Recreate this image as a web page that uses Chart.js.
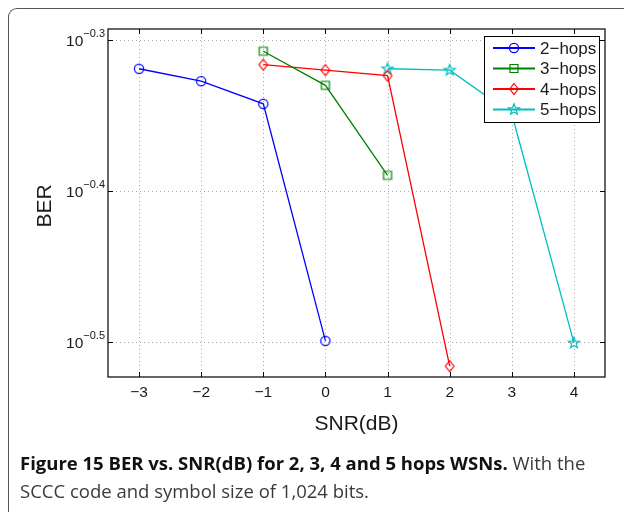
<!DOCTYPE html>
<html>
<head>
<meta charset="utf-8">
<script src="https://cdn.jsdelivr.net/npm/chart.js@4"></script>
<style>
  html, body { margin: 0; padding: 0; background: #fff; width: 624px; height: 512px; overflow: hidden; }
  #frame { position: absolute; left: 8px; top: 8px; width: 700px; height: 600px;
           border-top: 1.5px solid #555; border-left: 1.5px solid #555; border-top-left-radius: 9px; }
  #c { position: absolute; left: 0; top: 0; }
  #caption { position: absolute; left: 20px; top: 449px; width: 610px; white-space: nowrap;
             font-family: "Open Sans", sans-serif; font-size: 18.5px; line-height: 28px; color: #3a3a3a; }
  #caption b { color: #111; }
</style>
</head>
<body>
<div id="frame"></div>
<canvas id="c" width="624" height="512"></canvas>
<div id="caption"><b>Figure 15 BER vs. SNR(dB) for 2, 3, 4 and 5 hops WSNs.</b> With the<br>SCCC code and symbol size of 1,024 bits.</div>
<script>
// datos
let snr2 = [-3, -2, -1, 0];
let ber2 = [0.480, 0.471, 0.455, 0.317];
let snr3 = [-1, 0, 1];
let ber3 = [0.493, 0.468, 0.408];
let snr4 = [-1, 0, 1, 2];
let ber4 = [0.483, 0.479, 0.475, 0.305];
let snr5 = [1, 2, 3, 4];
let ber5 = [0.480, 0.479, 0.448, 0.316];

let seriesNames = ['2\u2212hops', '3\u2212hops', '4\u2212hops', '5\u2212hops'];
let xTicks = [-3, -2, -1, 0, 1, 2, 3, 4];
let yTickExps = [-0.3, -0.4, -0.5];

let colors = ['#0000ff', '#008000', '#ff0000', '#00bfbf'];
let markers = ['circle', 'square', 'diamond', 'star'];
let font = '"Liberation Sans", Arial, sans-serif';

// dibuja un marcador estilo matlab
function drawMarker(ctx, type, x, y, color) {
  ctx.save();
  ctx.strokeStyle = color;
  ctx.lineWidth = 1.2;
  ctx.beginPath();
  if (type == 'circle') {
    ctx.arc(x, y, 4.6, 0, Math.PI * 2);
  } else if (type == 'square') {
    ctx.rect(x - 4, y - 4, 8, 8);
  } else if (type == 'diamond') {
    ctx.moveTo(x, y - 5.5);
    ctx.lineTo(x + 4.3, y);
    ctx.lineTo(x, y + 5.5);
    ctx.lineTo(x - 4.3, y);
    ctx.closePath();
  } else {
    for (let k = 0; k < 10; k++) {
      let r = k % 2 == 0 ? 5.8 : 2.4;
      let a = -Math.PI / 2 + k * Math.PI / 5;
      let px = x + r * Math.cos(a), py = y + r * Math.sin(a);
      if (k == 0) ctx.moveTo(px, py); else ctx.lineTo(px, py);
    }
    ctx.closePath();
  }
  ctx.stroke();
  ctx.restore();
}

function markerCanvas(type, color) {
  let cv = document.createElement('canvas');
  cv.width = 16; cv.height = 16;
  drawMarker(cv.getContext('2d'), type, 8, 8, color);
  return cv;
}

function toPoints(xs, ys) {
  let pts = [];
  for (let i in xs) pts.push({x: xs[i], y: ys[i]});
  return pts;
}

let allX = [snr2, snr3, snr4, snr5];
let allY = [ber2, ber3, ber4, ber5];
let datasets = [];
for (let i = 0; i < 4; i++) {
  datasets.push({
    label: seriesNames[i],
    data: toPoints(allX[i], allY[i]),
    borderColor: colors[i],
    borderWidth: 1.3,
    pointStyle: markerCanvas(markers[i], colors[i]),
    pointRadius: 5,
    tension: 0,
    fill: false
  });
}

// ejes, etiquetas y leyenda a mano (estilo matlab)
let matlabPlugin = {
  id: 'matlab',
  beforeDatasetsDraw(chart) {
    let ctx = chart.ctx, a = chart.chartArea;
    let sx = chart.scales.x, sy = chart.scales.y;
    ctx.save();
    ctx.strokeStyle = '#a8a8a8';
    ctx.lineWidth = 1;
    ctx.setLineDash([1, 3]);
    xTicks.forEach(v => {
      let px = Math.round(sx.getPixelForValue(v)) + 0.5;
      ctx.beginPath(); ctx.moveTo(px, a.top); ctx.lineTo(px, a.bottom); ctx.stroke();
    });
    yTickExps.forEach(e => {
      let py = Math.round(sy.getPixelForValue(Math.pow(10, e))) + 0.5;
      ctx.beginPath(); ctx.moveTo(a.left, py); ctx.lineTo(a.right, py); ctx.stroke();
    });
    ctx.restore();
  },
  afterDraw(chart) {
    let ctx = chart.ctx, a = chart.chartArea;
    let sx = chart.scales.x, sy = chart.scales.y;
    ctx.save();
    // marco y ticks hacia dentro
    ctx.strokeStyle = '#000';
    ctx.lineWidth = 1.2;
    ctx.strokeRect(a.left, a.top, a.right - a.left, a.bottom - a.top);
    ctx.lineWidth = 1;
    ctx.beginPath();
    xTicks.forEach(v => {
      let px = Math.round(sx.getPixelForValue(v)) + 0.5;
      ctx.moveTo(px, a.bottom); ctx.lineTo(px, a.bottom - 5);
      ctx.moveTo(px, a.top); ctx.lineTo(px, a.top + 5);
    });
    yTickExps.forEach(e => {
      let py = Math.round(sy.getPixelForValue(Math.pow(10, e))) + 0.5;
      ctx.moveTo(a.left, py); ctx.lineTo(a.left + 5, py);
      ctx.moveTo(a.right, py); ctx.lineTo(a.right - 5, py);
    });
    ctx.stroke();

    // etiquetas eje x
    ctx.fillStyle = '#1a1a1a';
    ctx.font = '15.5px ' + font;
    ctx.textAlign = 'center';
    ctx.textBaseline = 'middle';
    xTicks.forEach(v => {
      let txt = v < 0 ? '\u2212' + Math.abs(v) : String(v);
      ctx.fillText(txt, sx.getPixelForValue(v), a.bottom + 16);
    });

    // etiquetas eje y: 10^exp
    yTickExps.forEach(e => {
      let py = sy.getPixelForValue(Math.pow(10, e));
      let sup = '\u2212' + Math.abs(e).toFixed(1);
      ctx.font = '11px ' + font;
      let w = ctx.measureText(sup).width;
      let right = a.left - 3;
      ctx.textAlign = 'left';
      ctx.fillText(sup, right - w, py - 6);
      ctx.font = '15.5px ' + font;
      ctx.textAlign = 'right';
      ctx.fillText('10', right - w, py + 1);
    });

    // titulos de ejes
    ctx.font = '21px ' + font;
    ctx.textAlign = 'center';
    ctx.fillText('SNR(dB)', (a.left + a.right) / 2, 424);
    ctx.save();
    ctx.translate(45, 206);
    ctx.rotate(-Math.PI / 2);
    ctx.fillText('BER', 0, 0);
    ctx.restore();

    // leyenda
    let lx = 484.5, ly = 36.5, lw = 115, lh = 86;
    ctx.fillStyle = '#fff';
    ctx.fillRect(lx, ly, lw, lh);
    ctx.strokeStyle = '#000';
    ctx.lineWidth = 1;
    ctx.strokeRect(lx, ly, lw, lh);
    for (let i = 0; i < 4; i++) {
      let yy = 48 + i * 20.5;
      ctx.strokeStyle = colors[i];
      ctx.lineWidth = 2;
      ctx.beginPath(); ctx.moveTo(493, yy); ctx.lineTo(535, yy); ctx.stroke();
      drawMarker(ctx, markers[i], 514, yy, colors[i]);
      ctx.fillStyle = '#1a1a1a';
      ctx.font = '17px ' + font;
      ctx.textAlign = 'left';
      ctx.fillText(seriesNames[i], 540, yy + 1);
    }
    ctx.restore();
  }
};

let myChart = {
  type: 'line',
  data: { datasets: datasets },
  options: {
    responsive: false,
    animation: false,
    layout: { padding: { left: 108, right: 19, top: 29, bottom: 135 } },
    plugins: { legend: { display: false }, tooltip: { enabled: false } },
    scales: {
      x: {
        type: 'linear', min: -3.5, max: 4.5,
        ticks: { display: false },
        grid: { display: false, drawTicks: false },
        border: { display: false }
      },
      y: {
        type: 'logarithmic', min: 0.3, max: 0.51,
        ticks: { display: false },
        grid: { display: false, drawTicks: false },
        border: { display: false }
      }
    }
  },
  plugins: [matlabPlugin]
};

var grafico = document.getElementById('c');
window.chart = new Chart(grafico, myChart);
</script>
</body>
</html>
